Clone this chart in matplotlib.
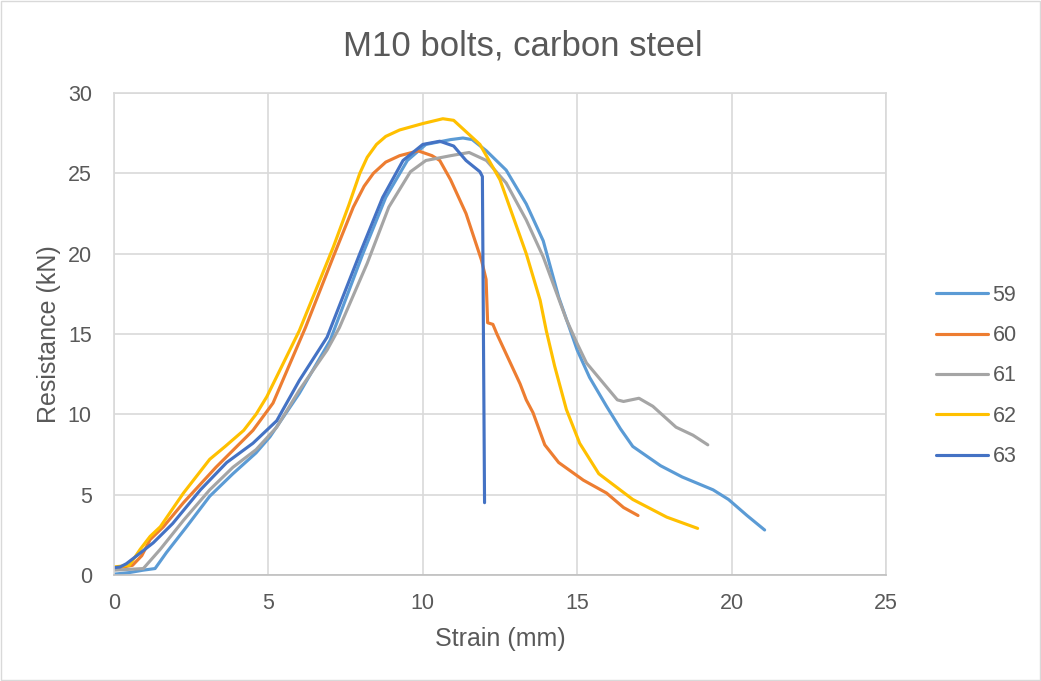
import matplotlib
matplotlib.use('Agg')
import matplotlib.pyplot as plt
from matplotlib.patches import Rectangle

plt.rcParams['font.family'] = ['Liberation Sans', 'DejaVu Sans']

# strain (mm) / resistance (kN)
x59 = [0, 0.5, 0.95, 1.33, 1.7, 2.35, 3.1, 3.85, 4.6, 5.05, 6.0, 7.0, 8.06, 8.8, 9.5, 10.1, 10.9, 11.3,
       11.6, 12.06, 12.7, 13.35, 13.9, 14.4, 15.0, 15.4, 15.95, 16.4, 16.8, 17.7, 18.4, 19.4, 19.9, 20.5, 21.07]
y59 = [0.05, 0.15, 0.3, 0.4, 1.4, 3.0, 4.9, 6.3, 7.6, 8.6, 11.3, 14.6, 20.0, 23.5, 25.8, 26.8, 27.1, 27.2,
       27.1, 26.4, 25.2, 23.1, 20.8, 17.3, 14.0, 12.3, 10.5, 9.1, 8.0, 6.8, 6.1, 5.3, 4.7, 3.7, 2.8]

x60 = [0, 0.3, 0.6, 0.9, 1.17, 1.6, 2.25, 3.3, 4.5, 5.15, 6.2, 7.1, 7.75, 8.1, 8.4, 8.8, 9.25, 9.85, 10.3,
       10.55, 10.9, 11.4, 11.9, 12.05, 12.1, 12.27, 12.4, 13.15, 13.35, 13.57, 13.95, 14.4, 15.2, 15.95,
       16.5, 16.97]
y60 = [0.4, 0.5, 0.6, 1.2, 2.2, 3.0, 4.5, 6.7, 9.0, 10.7, 15.4, 19.8, 22.9, 24.2, 25.0, 25.7, 26.1, 26.4,
       26.1, 25.8, 24.6, 22.5, 19.6, 18.4, 15.7, 15.6, 15.0, 11.9, 10.9, 10.1, 8.1, 7.0, 5.9, 5.1, 4.2, 3.7]

x61 = [0, 0.5, 0.95, 1.5, 2.25, 3.1, 3.85, 4.6, 5.27, 6.0, 6.9, 7.3, 8.2, 8.9, 9.6, 10.1, 10.9, 11.5,
       12.06, 12.7, 13.35, 13.9, 14.65, 15.0, 15.3, 16.3, 16.5, 17.0, 17.45, 18.2, 18.75, 19.23]
y61 = [0.3, 0.35, 0.4, 1.6, 3.4, 5.3, 6.7, 7.8, 9.2, 11.5, 14.0, 15.4, 19.4, 22.9, 25.1, 25.8, 26.1, 26.3,
       25.8, 24.4, 22.1, 19.8, 15.9, 14.4, 13.2, 10.9, 10.8, 11.0, 10.5, 9.2, 8.7, 8.1]

x62 = [0, 0.5, 0.85, 1.17, 1.5, 2.25, 3.1, 3.6, 4.2, 4.6, 4.95, 6.0, 7.1, 7.6, 7.96, 8.2, 8.5, 8.8, 9.25,
       10.0, 10.65, 11.0, 11.85, 12.5, 13.35, 13.8, 14.0, 14.27, 14.65, 15.08, 15.7, 16.8, 17.9, 18.9]
y62 = [0.5, 0.6, 1.6, 2.4, 3.0, 5.1, 7.2, 8.0, 9.0, 10.0, 11.1, 15.2, 20.4, 23.0, 25.0, 26.0, 26.8, 27.3,
       27.7, 28.1, 28.4, 28.3, 26.8, 24.6, 20.0, 17.1, 15.2, 13.0, 10.3, 8.2, 6.3, 4.7, 3.6, 2.9]

x63 = [0, 0.2, 0.4, 0.74, 1.27, 1.9, 2.8, 3.65, 4.5, 5.27, 6.0, 6.9, 7.96, 8.7, 9.36, 10.0, 10.55,
       11.0, 11.4, 11.85, 11.93, 12.0]
y63 = [0.45, 0.5, 0.7, 1.2, 2.0, 3.2, 5.3, 7.0, 8.2, 9.6, 12.1, 14.8, 20.0, 23.5, 25.8, 26.8, 27.0,
       26.7, 25.8, 25.1, 24.8, 4.5]

names = ['59', '60', '61', '62', '63']
colors = ['#5B9BD5', '#ED7D31', '#A5A5A5', '#FFC000', '#4472C4']
series = [(x59, y59), (x60, y60), (x61, y61), (x62, y62), (x63, y63)]

txt = '#595959'
fig = plt.figure(figsize=(10.41, 6.81), dpi=100)
ax = fig.add_axes([0.1095, 0.1557, 0.7416, 0.7077])

for (xs, ys), name, c in zip(series, names, colors):
    ax.plot(xs, ys, color=c, lw=2.25, label=name, solid_capstyle='round', solid_joinstyle='round')

ax.set_xlim(0, 25)
ax.set_ylim(0, 30)
ax.set_xticks(range(0, 26, 5))
ax.set_yticks(range(0, 31, 5))
ax.grid(True, color='#D9D9D9', lw=1.2)
ax.set_axisbelow(True)
for s in ['top', 'right', 'left']:
    ax.spines[s].set_color('#D9D9D9')
    ax.spines[s].set_linewidth(1.2)
ax.spines['bottom'].set_color('#BFBFBF')
ax.spines['bottom'].set_linewidth(1.2)
ax.tick_params(axis='both', length=0, labelsize=15.5, labelcolor=txt)
ax.tick_params(axis='x', pad=13)
ax.tick_params(axis='y', pad=16)

ax.set_xlabel('Strain (mm)', fontsize=18, color=txt, labelpad=9)
ax.set_ylabel('Resistance (kN)', fontsize=18, color=txt, labelpad=5)
fig.text(0.502, 0.932, 'M10 bolts, carbon steel', fontsize=25, color=txt, ha='center', va='center')

fig.legend(loc='center left', bbox_to_anchor=(0.881, 0.448), frameon=False, fontsize=15.5,
           handlelength=2.4, handletextpad=0.2, labelspacing=0.9, labelcolor=txt)

fig.patches.append(Rectangle((0.001, 0.001), 0.998, 0.997, transform=fig.transFigure,
                             fill=False, edgecolor='#D9D9D9', lw=1))

fig.savefig('out.png', dpi=100)
